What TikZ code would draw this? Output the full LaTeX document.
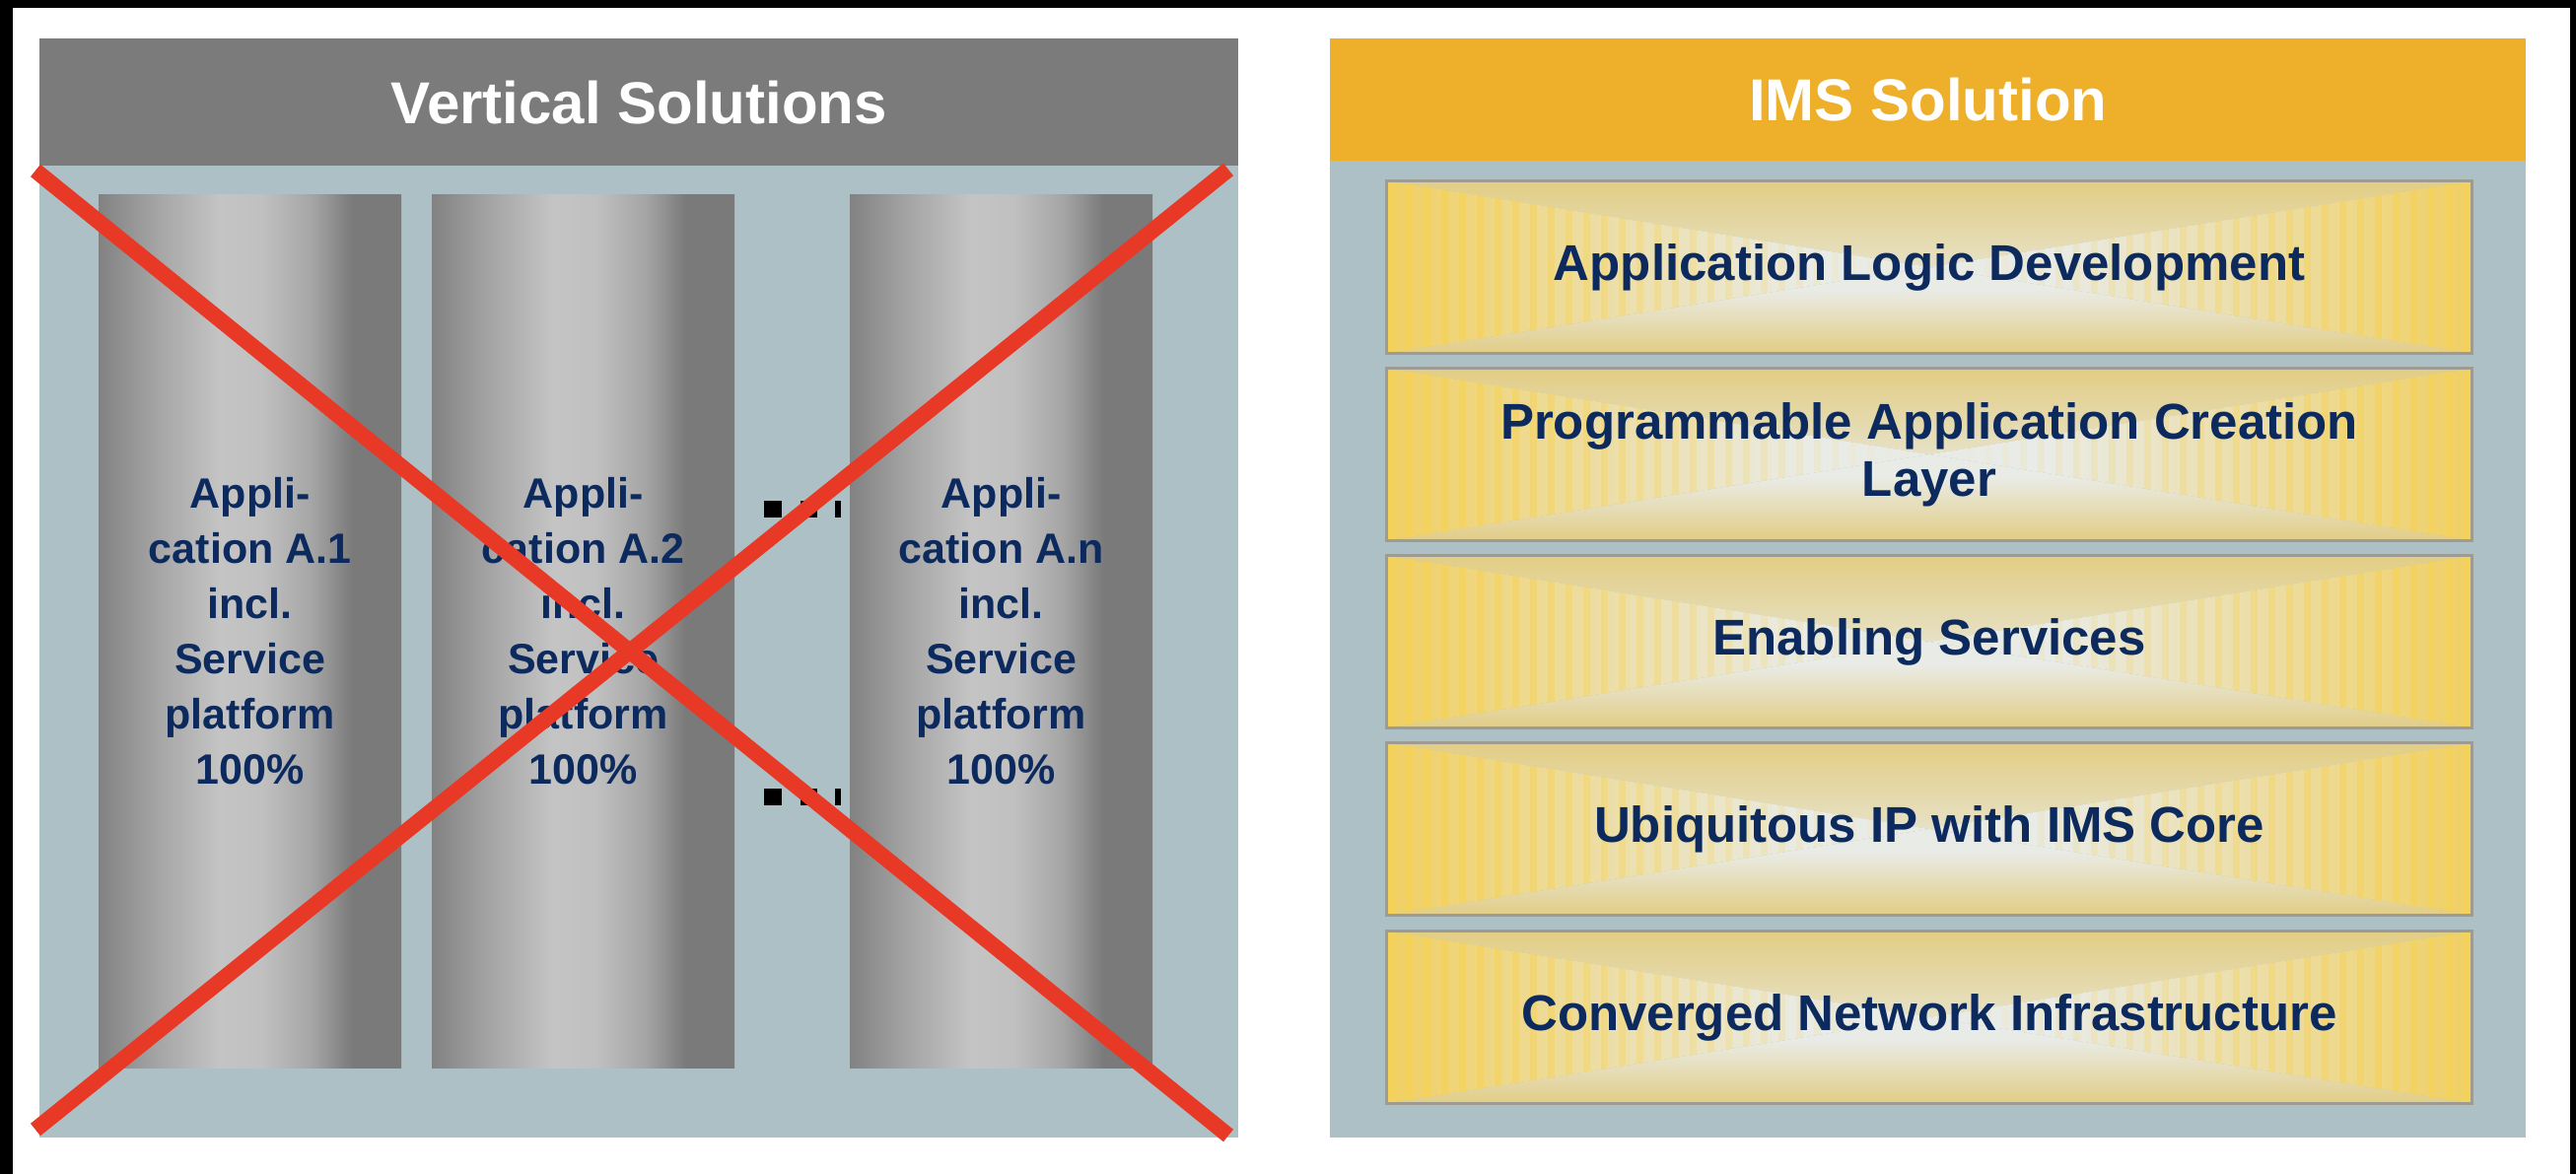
\documentclass[tikz,border=0pt]{standalone}
\usepackage{fontspec}
\setmainfont{Liberation Sans}
\usetikzlibrary{calc}
\definecolor{panelbg}{RGB}{172,192,197}
\definecolor{hdrgray}{RGB}{123,123,123}
\definecolor{hdrorange}{RGB}{238,176,42}
\definecolor{navy}{RGB}{12,42,94}
\definecolor{xred}{RGB}{232,56,38}
\definecolor{cyla}{RGB}{130,130,130}
\definecolor{cylb}{RGB}{166,166,166}
\definecolor{cyll}{RGB}{196,196,196}
\definecolor{cylk}{RGB}{192,192,192}
\definecolor{cyld}{RGB}{122,122,122}
\definecolor{ylw}{RGB}{240,208,100}
\definecolor{stripeylw}{RGB}{248,210,80}
\definecolor{tan}{RGB}{226,205,132}
\definecolor{ctr}{RGB}{233,235,230}
\definecolor{boxedge}{RGB}{158,156,146}
\pgfdeclarehorizontalshading{cylshade}{100bp}{color(0bp)=(cyla); color(25bp)=(cyla); color(35bp)=(cylb); color(45bp)=(cyll); color(52bp)=(cylk); color(60bp)=(cylb); color(67bp)=(cyld); color(75bp)=(cyld); color(100bp)=(cyld)}
\pgfdeclarehorizontalshading{lefttri}{100bp}{color(0bp)=(ylw); color(25bp)=(ylw); color(64bp)=(ctr); color(100bp)=(ctr)}
\pgfdeclarehorizontalshading{righttri}{100bp}{color(0bp)=(ctr); color(36bp)=(ctr); color(75bp)=(ylw); color(100bp)=(ylw)}
\pgfdeclareverticalshading{toptri}{100bp}{color(0bp)=(ctr); color(38bp)=(ctr); color(75bp)=(tan); color(100bp)=(tan)}
\pgfdeclareverticalshading{bottri}{100bp}{color(0bp)=(tan); color(25bp)=(tan); color(62bp)=(ctr); color(100bp)=(ctr)}
\begin{document}
\begin{tikzpicture}[x=1pt,y=1pt,
  hdrtext/.style={text=white, font=\fontsize{60}{66}\selectfont\bfseries, inner sep=0pt, anchor=north west},
  panelbox/.style={fill=panelbg, inner sep=0pt, anchor=north west},
  cylbox/.style={shade, shading=cylshade, minimum width=307pt, minimum height=886pt, inner sep=0pt,
    anchor=north west, text=navy, font=\fontsize{43}{56}\selectfont\bfseries, align=center},
  dotsq/.style={fill=black},
  crossline/.style={draw=xred, line width=16pt},
  stripeline/.style={draw=stripeylw, line width=7pt},
  imsbox/.style={minimum width=1101pt, minimum height=175pt, inner sep=0pt, anchor=north west,
    draw=boxedge, line width=3pt, text=navy, font=\fontsize{51}{58}\selectfont\bfseries, align=center,
    path picture={
      \shade[shading=toptri] (path picture bounding box.north west) -- (path picture bounding box.north east) -- (path picture bounding box.center) -- cycle;
      \shade[shading=bottri] (path picture bounding box.south west) -- (path picture bounding box.south east) -- (path picture bounding box.center) -- cycle;
      \begin{scope}
        \clip (path picture bounding box.north west) -- (path picture bounding box.south west) -- (path picture bounding box.center) -- cycle;
        \shade[shading=lefttri] (path picture bounding box.north west) -- (path picture bounding box.south west) -- (path picture bounding box.center) -- cycle;
        \foreach \k [evaluate=\k as \op using {0.6*(1-\k/30)}] in {0,...,29}
          \draw[stripeline, opacity=\op] ([xshift=\k*18pt+5pt]path picture bounding box.north west) -- ([xshift=\k*18pt+5pt]path picture bounding box.south west);
      \end{scope}
      \begin{scope}
        \clip (path picture bounding box.north east) -- (path picture bounding box.south east) -- (path picture bounding box.center) -- cycle;
        \shade[shading=righttri] (path picture bounding box.north east) -- (path picture bounding box.south east) -- (path picture bounding box.center) -- cycle;
        \foreach \k [evaluate=\k as \op using {0.6*(1-\k/30)}] in {0,...,29}
          \draw[stripeline, opacity=\op] ([xshift=-\k*18pt-5pt]path picture bounding box.north east) -- ([xshift=-\k*18pt-5pt]path picture bounding box.south east);
      \end{scope}
    }}
]
\useasboundingbox (0,0) rectangle (2613,-1191);
% frame
\fill[black] (0,0) rectangle (2613,-1191);
\fill[white] (13,-8) rectangle (2607,-1191);

% left panel
\node[panelbox, minimum width=1216pt, minimum height=1115pt] (vpanel) at (40,-39) {};
\node[hdrtext, fill=hdrgray, minimum width=1216pt, minimum height=129pt] (vhdr) at (40,-39) {Vertical Solutions};

\node[cylbox] (cyl1) at (100,-197) {Appli-\\cation A.1\\incl.\\Service\\platform\\100\%};
\node[cylbox] (cyl2) at (438,-197) {Appli-\\cation A.2\\incl.\\Service\\platform\\100\%};
\node[cylbox] (cyl3) at (862,-197) {Appli-\\cation A.n\\incl.\\Service\\platform\\100\%};

% ellipsis dots
\fill[dotsq] (775,-508) rectangle (793,-525);
\fill[dotsq] (812,-508) rectangle (829,-525);
\fill[dotsq] (847,-508) rectangle (853,-525);
\fill[dotsq] (775,-800) rectangle (793,-817);
\fill[dotsq] (812,-800) rectangle (829,-817);
\fill[dotsq] (847,-800) rectangle (853,-817);

% red cross
\coordinate (xtl) at (36,-173);
\coordinate (xbr) at (1246,-1152);
\coordinate (xbl) at (36,-1146);
\coordinate (xtr) at (1246,-172);
\draw[crossline] (xtl) -- (xbr);
\draw[crossline] (xbl) -- (xtr);

% right panel
\node[panelbox, minimum width=1213pt, minimum height=1115pt] (ipanel) at (1349,-39) {};
\node[hdrtext, fill=hdrorange, minimum width=1213pt, minimum height=124pt] (ihdr) at (1349,-39) {IMS Solution};

\node[imsbox] (lay1) at (1405,-182) {Application Logic Development};
\node[imsbox] (lay2) at (1405,-372) {Programmable Application Creation\\Layer};
\node[imsbox] (lay3) at (1405,-562) {Enabling Services};
\node[imsbox] (lay4) at (1405,-752) {Ubiquitous IP with IMS Core};
\node[imsbox] (lay5) at (1405,-943) {Converged Network Infrastructure};
\end{tikzpicture}
\end{document}
